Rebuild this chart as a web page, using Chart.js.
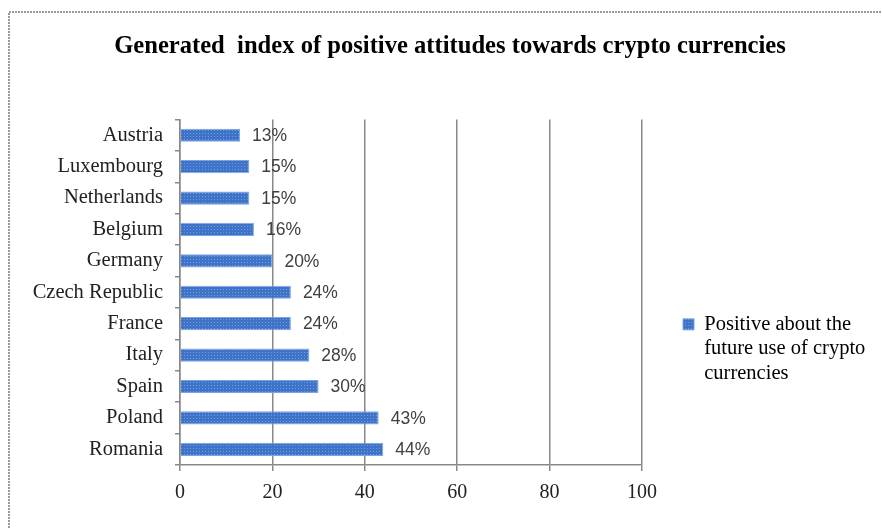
<!DOCTYPE html>
<html>
<head>
<meta charset="utf-8">
<script src="https://cdn.jsdelivr.net/npm/chart.js@4/dist/chart.umd.min.js"></script>
<style>
  html, body { margin: 0; padding: 0; background: #ffffff; }
  #wrap { width: 882px; height: 528px; position: relative; }
</style>
</head>
<body>
<div id="wrap"><canvas id="c" width="882" height="528"></canvas></div>
<script>
// ---- data ----
const titleText = 'Generated  index of positive attitudes towards crypto currencies';
const countries = ['Austria', 'Luxembourg', 'Netherlands', 'Belgium', 'Germany', 'Czech Republic', 'France', 'Italy', 'Spain', 'Poland', 'Romania'];
const positiveValues = [13, 15, 15, 16, 20, 24, 24, 28, 30, 43, 44];
const seriesLabel = ['Positive about the', 'future use of crypto', 'currencies'];
const xTicks = [0, 20, 40, 60, 80, 100];

// ---- bar texture ----
function makePattern() {
  const p = document.createElement('canvas');
  p.width = 3; p.height = 3;
  const g = p.getContext('2d');
  g.fillStyle = '#3e73c7';
  g.fillRect(0, 0, 3, 3);
  g.fillStyle = '#6e9de0';
  g.fillRect(1, 1, 1, 1);
  return g.createPattern(p, 'repeat');
}
const ctx = document.getElementById('c').getContext('2d');
const barFill = makePattern();

const framePlugin = {
  id: 'frame',
  beforeDraw(chart) {
    const c = chart.ctx;
    c.save();
    c.strokeStyle = '#9a9a9a';
    c.lineWidth = 2;
    c.setLineDash([2, 1]);
    c.beginPath();
    c.moveTo(9, 600);
    c.lineTo(9, 12);
    c.lineTo(900, 12);
    c.stroke();
    c.restore();
  }
};

const valueLabels = {
  id: 'valueLabels',
  afterDatasetsDraw(chart) {
    const c = chart.ctx;
    const meta = chart.getDatasetMeta(0);
    const data = chart.data.datasets[0].data;
    c.save();
    c.font = '17.5px "Liberation Sans", Arial, sans-serif';
    c.fillStyle = '#404040';
    c.textAlign = 'left';
    c.textBaseline = 'middle';
    meta.data.forEach((bar, i) => {
      c.fillText(data[i] + '%', bar.x + 12, bar.y + 1);
    });
    c.restore();
  }
};

const serif = '"Liberation Serif", "Times New Roman", serif';

new Chart(ctx, {
  type: 'bar',
  data: {
    labels: countries,
    datasets: [{
      label: seriesLabel,
      data: positiveValues,
      backgroundColor: barFill,
      borderColor: '#7aa5e5',
      borderWidth: 1,
      barPercentage: 0.42,
      categoryPercentage: 1.0
    }]
  },
  options: {
    indexAxis: 'y',
    responsive: false,
    animation: false,
    devicePixelRatio: 1,
    layout: { padding: { left: 30, right: 12, top: 0, bottom: 13 } },
    plugins: {
      title: {
        display: true,
        text: titleText,
        color: '#000000',
        font: { family: serif, size: 24.6, weight: 'bold' },
        padding: { top: 32, bottom: 58 }
      },
      legend: {
        display: true,
        position: 'right',
        align: 'center',
        maxWidth: 228,
        title: { display: true, text: '', font: { size: 10 }, padding: { top: 175, bottom: 0 } },
        labels: {
          boxWidth: 11,
          boxHeight: 11,
          padding: 41,
          color: '#000000',
          font: { family: serif, size: 20.5 }
        }
      },
      tooltip: { enabled: false }
    },
    scales: {
      x: {
        min: 0,
        max: 100,
        afterBuildTicks(scale) { scale.ticks = xTicks.map(v => ({ value: v })); },
        grid: { color: '#888888', lineWidth: 1.5, drawTicks: true, tickLength: 6, tickColor: '#888888' },
        border: { display: true, color: '#888888', width: 1.5 },
        ticks: {
          padding: 10,
          color: '#222222',
          font: { family: serif, size: 20 }
        }
      },
      y: {
        afterFit(scale) { scale.width = 150; },
        grid: { offset: true, drawOnChartArea: false, drawTicks: true, tickLength: 5, color: '#888888', lineWidth: 1.5 },
        border: { display: true, color: '#888888', width: 1.5 },
        ticks: {
          padding: 12,
          color: '#222222',
          font: { family: serif, size: 20.5 }
        }
      }
    }
  },
  plugins: [framePlugin, valueLabels]
});
</script>
</body>
</html>
